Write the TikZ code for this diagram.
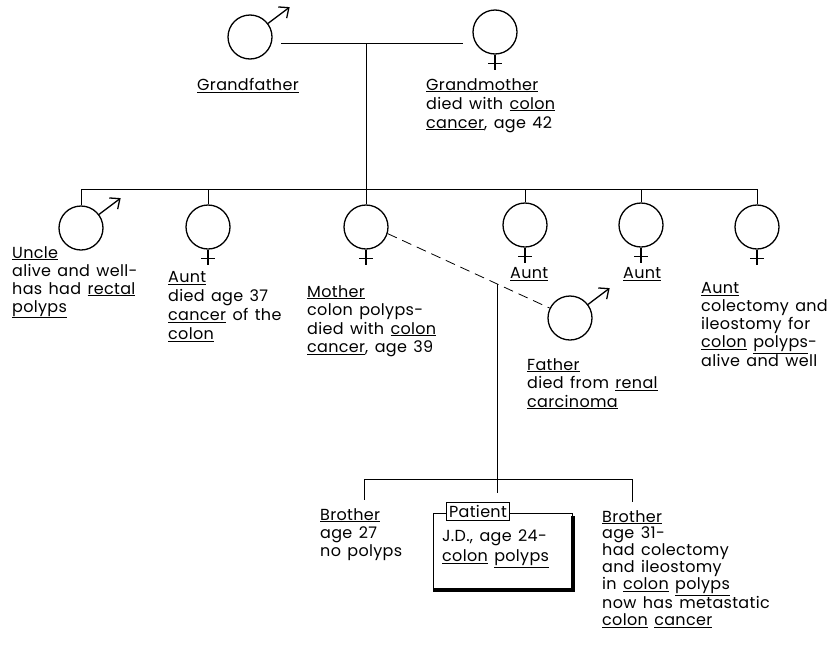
\documentclass[tikz,border=0pt]{standalone}
\usepackage{fontspec}
\setmainfont{Poppins}[LetterSpace=2, WordSpace=1.4]
\usetikzlibrary{arrows.meta}

\newcommand\femcross[1]{\draw[sym] (#1.south) -- ++(0,15) (#1.south) ++(-7,9) -- ++(14,0);}
\newcommand\marsarrow[1]{\draw[sym, -{Straight Barb[length=8pt, width=14pt, line width=1.3pt]}] (#1.37) -- ++(37:27pt);}

\tikzset{
  person/.style={circle, draw, line width=1.3pt, minimum size=44pt, inner sep=0pt},
  sym/.style={line width=1.3pt},
  tie/.style={line width=0.8pt},
  lbl/.style={anchor=north west, align=left, inner sep=0pt,
    font=\fontsize{16}{#1}\selectfont, execute at begin node={\rule{0pt}{12pt}}},
  lbl/.default=18.5,
}

\begin{document}
\begin{tikzpicture}[x=1pt, y=-1pt]
\useasboundingbox (0,0) rectangle (829,651);

% Grandparents
\node[person] (gf) at (250,37) {};
\node[person] (gm) at (495,32) {};
\marsarrow{gf}
\femcross{gm}
\coordinate (mar1) at (281,43);
\coordinate (mar2) at (463,43);
\coordinate (mar) at (366,43);
\draw[tie] (mar1) -- (mar2);
\node[lbl] (gflbl) at (197,78) {\underline{Grandfather}};
\node[lbl=19] (gmlbl) at (426,78) {\underline{Grandmother}\\died with \underline{colon}\\\underline{cancer}, age 42};

% Children of the grandparents
\node[person] (uncle) at (81,228) {};
\node[person] (aunta) at (208,227) {};
\node[person] (mother) at (366,227) {};
\node[person] (auntb) at (525,225) {};
\node[person] (auntc) at (641,225) {};
\node[person] (auntd) at (757,227) {};
\marsarrow{uncle}
\foreach \n in {aunta, mother, auntb, auntc, auntd} {
  \femcross{\n}
}
\coordinate (sib) at (366,189);
\draw[tie] (mar) -- (sib);
\draw[tie] (uncle.north |- sib) -- (auntd.north |- sib);
\foreach \n in {uncle, aunta, auntb, auntc, auntd} {
  \draw[tie] (\n.north |- sib) -- (\n.north);
}
\draw[tie] (sib) -- (mother.north);

\node[lbl=18] (unclelbl) at (12,246) {\underline{Uncle}\\alive and well-\\has had \underline{rectal}\\\underline{polyps}};
\node[lbl=19] (auntalbl) at (168,271) {\underline{Aunt}\\died age 37\\\underline{cancer} of the\\\underline{colon}};
\node[lbl] (motherlbl) at (307,285) {\underline{Mother}\\colon polyps-\\died with \underline{colon}\\\underline{cancer}, age 39};
\node[lbl] (auntblbl) at (510,266) {\underline{Aunt}};
\node[lbl] (auntclbl) at (623,266) {\underline{Aunt}};
\node[lbl=18] (auntdlbl) at (701,282) {\underline{Aunt}\\colectomy and\\ileostomy for\\\underline{colon} \underline{polyps}-\\alive and well};

% Father
\node[person] (father) at (570,318) {};
\marsarrow{father}
\draw[tie, dash pattern=on 10pt off 6pt] (mother.-17) -- coordinate[pos=0.675] (kid) (father.154);
\node[lbl] (fatherlbl) at (527,358) {\underline{Father}\\died from \underline{renal}\\\underline{carcinoma}};

% Children
\coordinate (stub) at (497,493);
\coordinate (cl) at (364,479);
\coordinate (cr) at (632,479);
\draw[tie] (kid) -- (kid |- stub);
\draw[tie] (cl) -- (cr);
\draw[tie] (cl) -- ++(0,21);
\draw[tie] (cr) -- ++(0,23);
\node[lbl=18] (brolbl) at (320,508) {\underline{Brother}\\age 27\\no polyps};
\node[lbl=16.8] (brorlbl) at (602,510) {\underline{Brother}\\age 31-\\had colectomy\\and ileostomy\\in \underline{colon} \underline{polyps}\\now has metastatic\\\underline{colon} \underline{cancer}};

% Patient
\node[draw, line width=0.8pt, minimum width=139pt, minimum height=76pt, anchor=north west, inner sep=0pt] (ptbox) at (433,513) {};
\draw[line width=4pt] ([yshift=-3pt]ptbox.north east) -- (ptbox.south east) -- (ptbox.south west);
\node[draw, fill=white, line width=0.8pt, minimum height=18pt, inner xsep=3pt, inner ysep=0pt, font=\fontsize{16}{18}\selectfont] (ptlbl) at (478,511) {Patient};
\node[lbl=20] (ptlbltext) at (442,530) {J.D., age 24-\\\underline{colon} \underline{polyps}};
\end{tikzpicture}
\end{document}
